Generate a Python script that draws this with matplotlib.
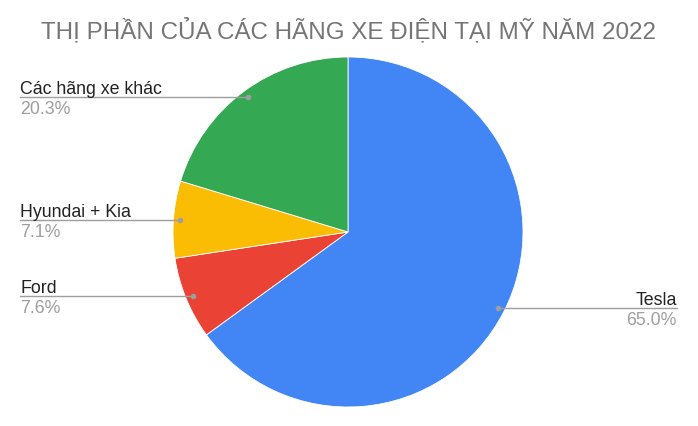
import numpy as np
import matplotlib
matplotlib.use("Agg")
import matplotlib.pyplot as plt

# values
brands = ["Tesla", "Ford", "Hyundai + Kia", "Các hãng xe khác"]
shares = [65.0, 7.6, 7.1, 20.3]
colors = ["#4285F4", "#EA4335", "#FBBC04", "#34A853"]
title = "THỊ PHẦN CỦA CÁC HÃNG XE ĐIỆN TẠI MỸ NĂM 2022"

W, H = 698, 427
cx, cy, R = 348, H - 233, 175

plt.rcParams["font.family"] = ["Liberation Sans", "DejaVu Sans"]

fig = plt.figure(figsize=(W / 100, H / 100), dpi=100)
ax = fig.add_axes([0, 0, 1, 1])

wedges, _ = ax.pie(shares, colors=colors, startangle=90, counterclock=False,
                   center=(cx, cy), radius=R,
                   wedgeprops=dict(edgecolor="white", linewidth=0.6))
ax.set_xlim(0, W)
ax.set_ylim(0, H)
ax.set_aspect("equal")
ax.axis("off")

# leader lines + labels
total = sum(shares)
start = 90.0
for name, val in zip(brands, shares):
    mid = np.deg2rad(start - val / total * 360 / 2)
    start -= val / total * 360
    px = cx + 0.96 * R * np.cos(mid)
    py = cy + 0.96 * R * np.sin(mid)
    if px > cx:
        x_txt, ha = 677, "right"
    else:
        x_txt, ha = 20, "left"
    ax.plot([px, x_txt], [py, py], color="#9E9E9E", lw=1)
    ax.plot(px, py, "o", color="#9E9E9E", ms=3)
    ax.text(x_txt, py + 4, name, ha=ha, va="baseline", fontsize=12.8, color="#222222")
    ax.text(x_txt, py - 16, f"{val:.1f}%", ha=ha, va="baseline", fontsize=12.8, color="#9E9E9E")

ax.text(W / 2, H - 31, title, ha="center", va="center", fontsize=17.4, color="#757575")

fig.savefig("out.png", dpi=100)
